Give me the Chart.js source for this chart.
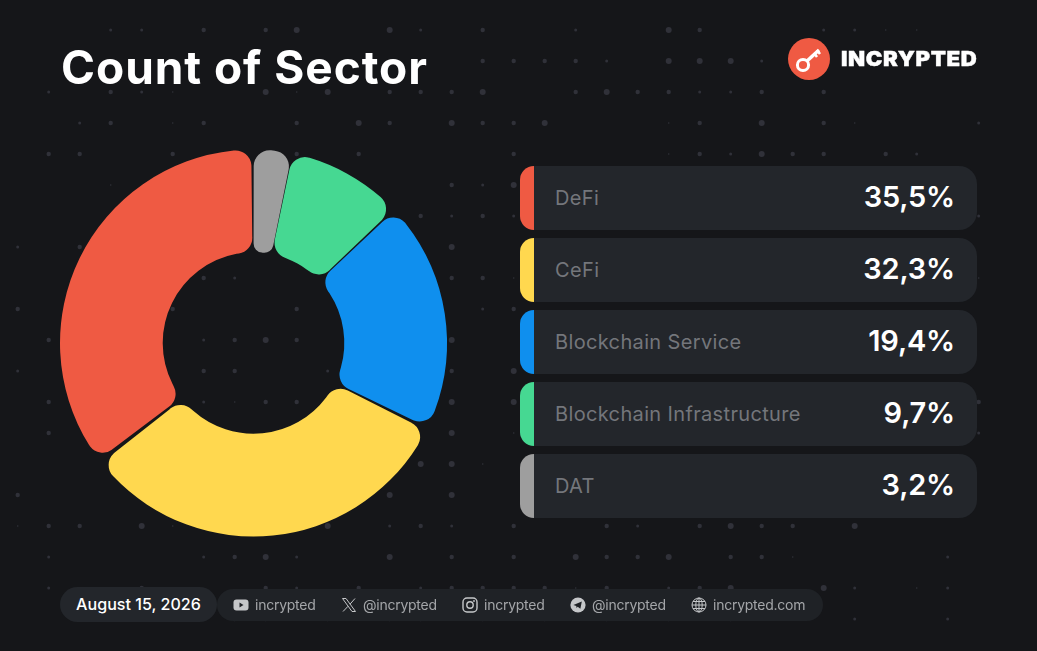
<!DOCTYPE html>
<html>
<head>
<meta charset="utf-8">
<title>Count of Sector</title>
<script src="https://cdn.jsdelivr.net/npm/chart.js@4"></script>
<style>
  html, body { margin: 0; padding: 0; background: #151619; }
  #page { position: relative; width: 1037px; height: 651px; overflow: hidden; font-family: Inter, sans-serif; }
  #dots { position: absolute; left: 0; top: 0; }
  #donut-box { position: absolute; left: 43px; top: 133px; width: 421px; height: 420px; }
  h1 { position: absolute; left: 61px; top: 39px; margin: 0; font-size: 46px; line-height: 56px; font-weight: 700; color: #fff; letter-spacing: 0.95px; white-space: nowrap; }
  #logo { position: absolute; left: 788px; top: 38px; }
  #brand { position: absolute; left: 841px; top: 47px; font-size: 20px; line-height: 24px; font-weight: 900; color: #fff; letter-spacing: 0.55px; -webkit-text-stroke: 0.4px #fff; transform: scaleX(1.11); transform-origin: left center; }
  .row { position: absolute; left: 520px; width: 457px; height: 64px; }
  .swatch { position: absolute; left: 0; top: 0; width: 14px; height: 64px; border-radius: 18px 0 0 18px; }
  .panel { position: absolute; left: 14px; top: 0; width: 443px; height: 64px; background: #23262b; border-radius: 0 18px 18px 0; }
  .name { position: absolute; left: 35px; top: 0; line-height: 65px; font-size: 20px; color: #74767b; letter-spacing: 0.35px; white-space: nowrap; }
  .pct { position: absolute; right: 22px; top: 0; line-height: 62px; font-size: 29px; font-weight: 600; color: #fff; letter-spacing: -0.2px; }
  #date { position: absolute; left: 60px; top: 587px; width: 157px; height: 35px; background: #23262b; border-radius: 18px; color: #fff; font-size: 16.1px; font-weight: 500; line-height: 35px; text-align: center; white-space: nowrap; }
  #socials { position: absolute; left: 217px; top: 589px; width: 606px; height: 32px; background: #1f2226; border-radius: 16px; }
  .soc { position: absolute; top: 0; line-height: 32px; font-size: 14px; letter-spacing: -0.25px; color: #a4a6a9; white-space: nowrap; }
  .ico { position: absolute; top: 8px; width: 16px; height: 16px; }
</style>
</head>
<body>
<div id="page">
  <canvas id="dots" width="1037" height="651"></canvas>
  <h1>Count of Sector</h1>
  <svg id="logo" width="42" height="42" viewBox="0 0 42 42">
    <circle cx="21" cy="21" r="21" fill="#ef5a43"/>
    <circle cx="15" cy="27" r="5.6" fill="none" stroke="#fff" stroke-width="3"/>
    <path d="M19 23 L31 12" stroke="#fff" stroke-width="3.4" fill="none"/>
    <path d="M26 15 l3 4 M29 12 l3 4" stroke="#fff" stroke-width="2.6" fill="none"/>
  </svg>
  <div id="brand">INCRYPTED</div>
  <div id="donut-box"><canvas id="sector-chart"></canvas></div>
  <div id="rows"></div>
  <div id="date">August 15, 2026</div>
  <div id="socials">
    <svg class="ico" style="left:16px" viewBox="0 0 16 16"><rect x="0.5" y="2.5" width="15" height="11" rx="3" fill="#c5c7c9"/><path d="M6.5 5.5 L10.5 8 L6.5 10.5 Z" fill="#1f2226"/></svg>
    <span class="soc" style="left:38px">incrypted</span>
    <svg class="ico" style="left:124px" viewBox="0 0 16 16"><path d="M1.5 1.5 H5 L14.5 14.5 H11 Z M14 1.5 L9 7.2 M7 9.3 L2 14.5" fill="none" stroke="#c5c7c9" stroke-width="1"/></svg>
    <span class="soc" style="left:146px">@incrypted</span>
    <svg class="ico" style="left:245px" viewBox="0 0 16 16"><rect x="1" y="1" width="14" height="14" rx="4" fill="none" stroke="#c5c7c9" stroke-width="1.4"/><circle cx="8" cy="8" r="3.2" fill="none" stroke="#c5c7c9" stroke-width="1.4"/><circle cx="12" cy="4" r="0.9" fill="#c5c7c9"/></svg>
    <span class="soc" style="left:267px">incrypted</span>
    <svg class="ico" style="left:353px" viewBox="0 0 16 16"><circle cx="8" cy="8" r="7.6" fill="#c5c7c9"/><path d="M3.4 7.9 L11.8 4.5 L10.4 11.8 L7.7 9.8 L6.5 11 L6.3 9 Z" fill="#1f2226"/></svg>
    <span class="soc" style="left:375px">@incrypted</span>
    <svg class="ico" style="left:474px" viewBox="0 0 16 16"><g fill="none" stroke="#c5c7c9" stroke-width="1"><circle cx="8" cy="8" r="7"/><ellipse cx="8" cy="8" rx="3.2" ry="7"/><path d="M8 1 V15 M1 8 H15 M2 4.5 H14 M2 11.5 H14"/></g></svg>
    <span class="soc" style="left:496px">incrypted.com</span>
  </div>
</div>

<script>
// sector shares, biggest first (same order as the list on the right)
const sectorLabels = ["DeFi", "CeFi", "Blockchain Service", "Blockchain Infrastructure", "DAT"];
const sectorValues = [35.5, 32.3, 19.4, 9.7, 3.2];
const sectorColors = ["#ef5a43", "#ffd84f", "#0f8fee", "#46d892", "#9e9e9e"];

// background dot texture, one string per grid row: "column+size"
// size: , tiny  . small  o medium  O large
const dotRows = {
  30: "3. 4. 6o 8o 9O 12O 13. 15o 18. 21O 22o 26. 27. 28, 29,",
  61: "15o 16o 17o 18o 19. 21O 22O 23O 24.",
  92: "1. 3o 4. 5, 8O 9, 10O 12o 13o 14o 15O 18o 19O 20o 21o 22. 23. 24o 26o",
  123: "2. 3o 5, 6o 9o 11O 12o 14O 15o 16o 17O 21, 22o 24O 26o 27, 31.",
  154: "1o 2o 5o 9o 11o 16o 21, 22o 23. 24O 25o 26o 28o 29.",
  185: "3, 14o 15. 16O",
  216: "13o 14. 15o 16. 31.",
  247: "0. 2o 14O",
  278: "6o 7. 14o 15o 16, 31,",
  309: "0o 5o 9o 15. 16o",
  340: "1o 6. 7o 8O 9o 14O",
  371: "0. 6o 7o 10. 14o 16O",
  402: "1o 6. 7, 8o 9o 14O 16O 31o",
  433: "1o 14O 16, 31.",
  464: "13O 14O 15,",
  495: "0o 12O 14O",
  526: "0, 1o 2o 4O 5, 10O 12. 13o 14. 16o 19o 20. 22o 23O 24o 25o 27O",
  557: "1. 6. 7o 8O 9. 12O 14o 16o 18O 19o 20o 21O 23o 24o 25, 30.",
  588: "1. 4o 8o 9. 11o 13. 14o 15o 16o 17o 18, 19o 21. 22o 23O 26O 27. 29, 30.",
  619: "7o 8o 10o 12o 13o 15o 17o 19o 21o 23o 25. 27. 30."
};
const dotRadius = { ",": 0.8, ".": 1.5, "o": 2.2, "O": 3 };

function drawDots() {
  const ctx = document.getElementById("dots").getContext("2d");
  ctx.fillStyle = "#303139";
  Object.keys(dotRows).forEach(y => {
    dotRows[y].split(" ").forEach(d => {
      const col = parseInt(d, 10);
      const size = d[d.length - 1];
      ctx.beginPath();
      ctx.arc(17.7 + col * 31, Number(y), dotRadius[size], 0, Math.PI * 2);
      ctx.fill();
    });
  });
}

function renderRows() {
  const holder = document.getElementById("rows");
  sectorLabels.forEach((label, i) => {
    const row = document.createElement("div");
    row.className = "row";
    row.style.top = (166 + i * 72) + "px";
    row.innerHTML =
      `<div class="swatch" style="background:${sectorColors[i]}"></div>` +
      `<div class="panel"></div>` +
      `<div class="name">${label}</div>` +
      `<div class="pct">${sectorValues[i].toFixed(1).replace(".", ",")}%</div>`;
    holder.appendChild(row);
  });
}

// the ring runs the other way round: smallest slice starts at 12 o'clock
function renderDonut() {
  new Chart(document.getElementById("sector-chart"), {
    type: "doughnut",
    data: {
      labels: [...sectorLabels].reverse(),
      datasets: [{
        data: [...sectorValues].reverse(),
        backgroundColor: [...sectorColors].reverse(),
        borderWidth: 0,
        borderRadius: 16,
        spacing: 3
      }]
    },
    options: {
      responsive: true,
      maintainAspectRatio: false,
      animation: false,
      radius: 192,
      cutout: "46.5%",
      plugins: { legend: { display: false }, tooltip: { enabled: false } }
    }
  });
}

drawDots();
renderRows();
renderDonut();
</script>
</body>
</html>
